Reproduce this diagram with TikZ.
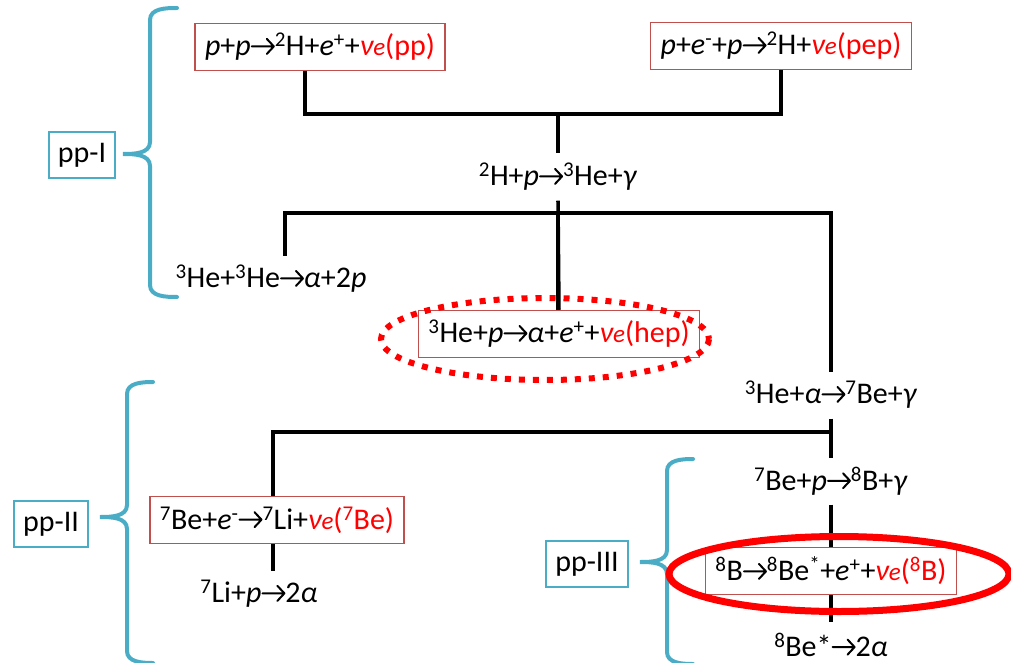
\documentclass[tikz,border=0pt]{standalone}
\usepackage{fontspec}
\setmainfont{Carlito}
\usepackage{tikz}

\definecolor{boxred}{HTML}{C0504D}
\definecolor{chainblue}{HTML}{4BACC6}

\newcommand{\ar}{\raisebox{1pt}{\tikz\draw[line width=2pt,line cap=round,line join=round] (0pt,0pt) -- (22pt,0pt) (15pt,7.5pt) -- (22pt,0pt) -- (15pt,-7.5pt);}}
\newcommand{\nue}{\textit{ν{\fontsize{25}{25}\selectfont e}}}

\tikzset{
  reac/.style={fill=white,inner xsep=10pt,minimum height=47pt,font=\fontsize{30}{34}\selectfont},
  nubox/.style={reac,draw=boxred,line width=1.5pt},
  chain/.style={draw=chainblue,line width=1.8pt,fill=white,inner xsep=9pt,minimum height=46pt,font=\fontsize{30}{34}\selectfont},
  link/.style={line width=3.5pt,line cap=rect},
  brace/.style={chainblue,line width=4pt,line cap=round}
}

\begin{document}
\begin{tikzpicture}[x=1pt,y=-1pt]
  \useasboundingbox (0,0) rectangle (1011,663);

  %junctions
  \coordinate (j1a) at (305,114);
  \coordinate (j1) at (558,114);
  \coordinate (j2l) at (285,213);
  \coordinate (j2) at (558,213);
  \coordinate (j2r) at (831,213);
  \coordinate (j3l) at (273,432);
  \coordinate (j3r) at (831,432);

  %links (under the nodes)
  \draw[link] (j1a) -- (j1);
  \draw[link] (j1) -- (558,200);
  \draw[link] (j2l) -- (j2r);
  \draw[link] (j2l) -- (285,260);
  \draw[link] (j2) -- (558,315);
  \draw[link] (j2r) -- (831,380);
  \draw[link] (j3l) -- (j3r);
  \draw[link] (831,410) -- (831,470);
  \draw[link] (j3l) -- (273,500);
  \draw[link] (273,540) -- (273,575);
  \draw[link] (831,495) -- (831,635);

  %reactions
  \node[nubox] (pp) at (320,47) {\textit{p}+\textit{p}\ar\textsuperscript{2}H+\textit{e}\textsuperscript{+}+\textcolor{red}{\nue(pp)}};
  \node[nubox] (pep) at (781,46) {\textit{p}+\textit{e}\textsuperscript{-}+\textit{p}\ar\textsuperscript{2}H+\textcolor{red}{\nue(pep)}};
  \node[reac] (dd) at (558,177) {\textsuperscript{2}H+\textit{p}\ar\textsuperscript{3}He+\textit{γ}};
  \node[reac] (hehe) at (271,279) {\textsuperscript{3}He+\textsuperscript{3}He\ar\textit{α}+2\textit{p}};
  \node[nubox] (hep) at (559,334) {\textsuperscript{3}He+\textit{p}\ar\textit{α}+\textit{e}\textsuperscript{+}+\textcolor{red}{\nue(hep)}};
  \node[reac] (hea) at (831,395) {\textsuperscript{3}He+\textit{α}\ar\textsuperscript{7}Be+\textit{γ}};
  \node[nubox] (be7) at (277,520) {\textsuperscript{7}Be+\textit{e}\textsuperscript{-}\ar\textsuperscript{7}Li+\textcolor{red}{\nue(\textsuperscript{7}Be)}};
  \node[reac] (li) at (259,594) {\textsuperscript{7}Li+\textit{p}\ar2\textit{α}};
  \node[reac] (bep) at (831,481) {\textsuperscript{7}Be+\textit{p}\ar\textsuperscript{8}B+\textit{γ}};
  \node[nubox] (b8) at (831,571) {\textsuperscript{8}B\ar\textsuperscript{8}Be\textsuperscript{*}+\textit{e}\textsuperscript{+}+\textcolor{red}{\nue(\textsuperscript{8}B)}};
  \node[reac] (be8) at (831,645) {\textsuperscript{8}Be*\ar2\textit{α}};

  %links to the nodes
  \draw[link,line cap=butt] (pp.south -| j1a) -- (j1a);
  \draw[link,line cap=butt] (j1) -| (pep.south);
  \draw[link,line cap=butt] (j1) -- (dd.north);
  \draw[link,line cap=butt] (dd.south) -- (hep.north);
  \draw[link,line cap=butt] (j2l) -- (hehe.north -| j2l);
  \draw[link,line cap=butt] (j2r) -- (hea.north);
  \draw[link,line cap=butt] (hea.south) -- (bep.north);
  \draw[link,line cap=butt] (j3l) -- (be7.north -| j3l);
  \draw[link,line cap=butt] (be7.south -| j3l) -- (li.north -| j3l);
  \draw[link,line cap=butt] (bep.south) -- (b8.north);
  \draw[link,line cap=butt] (b8.south) -- (be8.north);

  %chains
  \node[chain] (ppI) at (82,155) {pp-I};
  \node[chain] (ppII) at (51,524) {pp-II};
  \node[chain] (ppIII) at (587,564) {pp-III};

  %braces
  \draw[brace] (177,8) to[out=180,in=90] (150,20) -- (150,142) to[out=-90,in=0] (123,154) to[out=0,in=90] (150,166) -- (150,285) to[out=-90,in=180] (177,297);
  \draw[brace] (153,382) to[out=180,in=90] (127,394) -- (127,505) to[out=-90,in=0] (100,517) to[out=0,in=90] (127,529) -- (127,651) to[out=-90,in=180] (153,663);
  \draw[brace] (693,459) to[out=180,in=90] (667,471) -- (667,550) to[out=-90,in=0] (640,562) to[out=0,in=90] (667,574) -- (667,652) to[out=-90,in=180] (693,664);

  %rings
  \draw[red,line width=6pt,dash pattern=on 6pt off 8pt] (545,339) ellipse [x radius=164,y radius=41];
  \draw[red,line width=7pt] (839,574) ellipse [x radius=170,y radius=37.5];
\end{tikzpicture}
\end{document}
